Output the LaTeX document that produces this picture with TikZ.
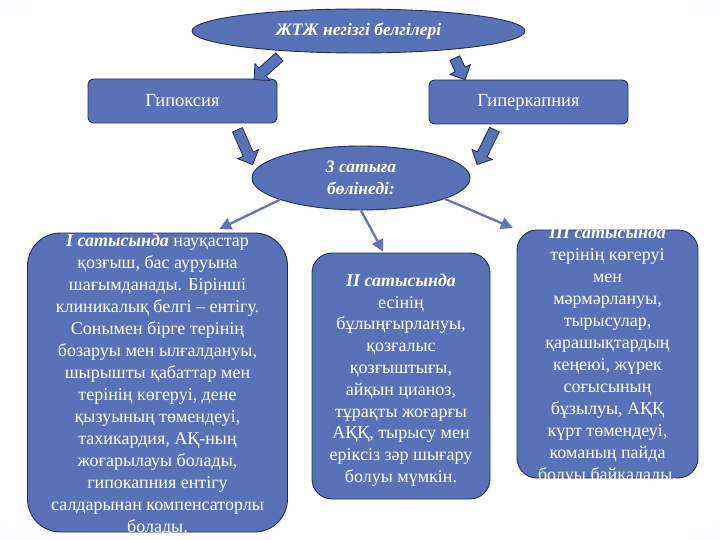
\documentclass[tikz,border=0pt]{standalone}
\usepackage{fontspec}
\setmainfont{Liberation Serif}
\usetikzlibrary{arrows.meta,shapes.geometric,shapes.arrows}
\definecolor{boxblue}{RGB}{89,114,183}
\definecolor{edgeblue}{RGB}{36,46,84}
\definecolor{lineblue}{RGB}{104,114,184}
\definecolor{paper}{RGB}{222,228,238}
\pgfdeclareradialshading{paperglow}{\pgfpoint{0bp}{0bp}}{color(0bp)=(white); color(30bp)=(white); color(62bp)=(paper); color(75bp)=(paper)}
\tikzset{>=latex}
\tikzstyle{oval} = [ellipse, fill=boxblue, draw=edgeblue, line width=0.9pt, inner sep=0pt, text=white, align=center, font=\fontsize{17.5}{22}\selectfont\bfseries\itshape]
\tikzstyle{process} = [rectangle, rounded corners=6pt, minimum height=44pt, fill=boxblue, draw=edgeblue, line width=0.9pt, text=white, font=\fontsize{18.5}{22}\selectfont]
\tikzstyle{stagebox} = [rectangle, fill=boxblue, draw=edgeblue, line width=0.9pt]
\tikzstyle{stagetext} = [inner sep=0pt, text=white, align=center, font=\fontsize{18}{22}\selectfont]
\tikzstyle{bigarrow} = [single arrow, fill=boxblue, draw=edgeblue, line width=0.8pt, inner sep=5pt, single arrow head extend=6pt, sloped, allow upside down]
\tikzstyle{arrow} = [line width=2.3pt, draw=lineblue, -{Triangle[length=12pt,width=12pt]}]
\newcommand{\stagename}[1]{\textbf{\textit{#1}}}

\begin{document}
\begin{tikzpicture}[node distance=70pt]

\shade[shading=paperglow] (0,0) rectangle (720pt,-540pt);
\useasboundingbox (0,0) rectangle (720pt,-540pt);

\node (signs) [oval, minimum width=333pt, minimum height=44pt] at (358.5pt,-31pt) {ЖТЖ негізгі белгілері};

\node (hypoxia) [process, minimum width=189pt, below of = signs, xshift=-176pt] {Гипоксия};
\node (hypercap) [process, minimum width=199pt, below of = signs, xshift=170pt, yshift=-1pt] {Гиперкапния};

\node (stages) [oval, minimum width=218pt, minimum height=64pt, below of = signs, xshift=2.5pt, yshift=-77pt] {3 сатыға\\бөлінеді:};

\node (stage1) [stagebox, rounded corners=33pt, minimum width=260pt, minimum height=299pt, below of = stages, xshift=-203.5pt, yshift=-134.5pt] {};
\node (stage2) [stagebox, rounded corners=20pt, minimum width=178pt, minimum height=246pt, below of = stages, xshift=40pt, yshift=-128pt] {};
\node (stage3) [stagebox, rounded corners=20pt, minimum width=181pt, minimum height=248pt, below of = stages, xshift=246.5pt, yshift=-106pt] {};

\node (stage1text) [stagetext, yshift=-2pt] at (stage1) {\stagename{I сатысында} науқастар\\
қозғыш, бас ауруына\\
шағымданады. Бірінші\\
клиникалық белгі – ентігу.\\
Сонымен бірге терінің\\
бозаруы мен ылғалдануы,\\
шырышты қабаттар мен\\
терінің көгеруі, дене\\
қызуының төмендеуі,\\
тахикардия, АҚ-ның\\
жоғарылауы болады,\\
гипокапния ентігу\\
салдарынан компенсаторлы\\
болады.};

\node (stage2text) [stagetext, font=\fontsize{18}{21.8}\selectfont, yshift=-4pt] at (stage2) {\stagename{II сатысында}\\
есінің\\
бұлыңғырлануы,\\
қозғалыс\\
қозғыштығы,\\
айқын цианоз,\\
тұрақты жоғарғы\\
АҚҚ, тырысу мен\\
еріксіз зәр шығару\\
болуы мүмкін.};

\node (stage3text) [stagetext, yshift=-1pt] at (stage3) {\stagename{III сатысында}\\
терінің көгеруі\\
мен\\
мәрмәрлануы,\\
тырысулар,\\
қарашықтардың\\
кеңеюі, жүрек\\
соғысының\\
бұзылуы, АҚҚ\\
күрт төмендеуі,\\
команың пайда\\
болуы байқалады.};

% block arrows
\coordinate (a1s) at ([xshift=-77.5pt,yshift=-2pt]signs.south);
\coordinate (a1e) at ([xshift=-21pt,yshift=1pt]hypoxia.north east);
\coordinate (a2s) at ([xshift=95.5pt,yshift=-3pt]signs.south);
\coordinate (a2e) at ([xshift=35pt,yshift=3pt]hypercap.north west);
\coordinate (a3s) at ([xshift=-41pt,yshift=-4pt]hypoxia.south east);
\coordinate (a3e) at ([yshift=16pt]stages.west);
\coordinate (a4s) at ([xshift=67pt,yshift=-3pt]hypercap.south west);
\coordinate (a4e) at ([xshift=8pt,yshift=16pt]stages.east);

\path (a1s) -- node[bigarrow, minimum height=34pt] {} (a1e);
\path (a2s) -- node[bigarrow, minimum height=24pt] {} (a2e);
\path (a3s) -- node[bigarrow, minimum height=38pt] {} (a3e);
\path (a4s) -- node[bigarrow, minimum height=39pt] {} (a4e);

\draw [arrow, shorten >=8pt] (stages.195) -- (stage1.70);
\draw [arrow, shorten >=1pt] (stages.south) -- (stage2.98);
\draw [arrow, shorten >=4pt] (stages.346) -- (stage3.north west);

\end{tikzpicture}
\end{document}
